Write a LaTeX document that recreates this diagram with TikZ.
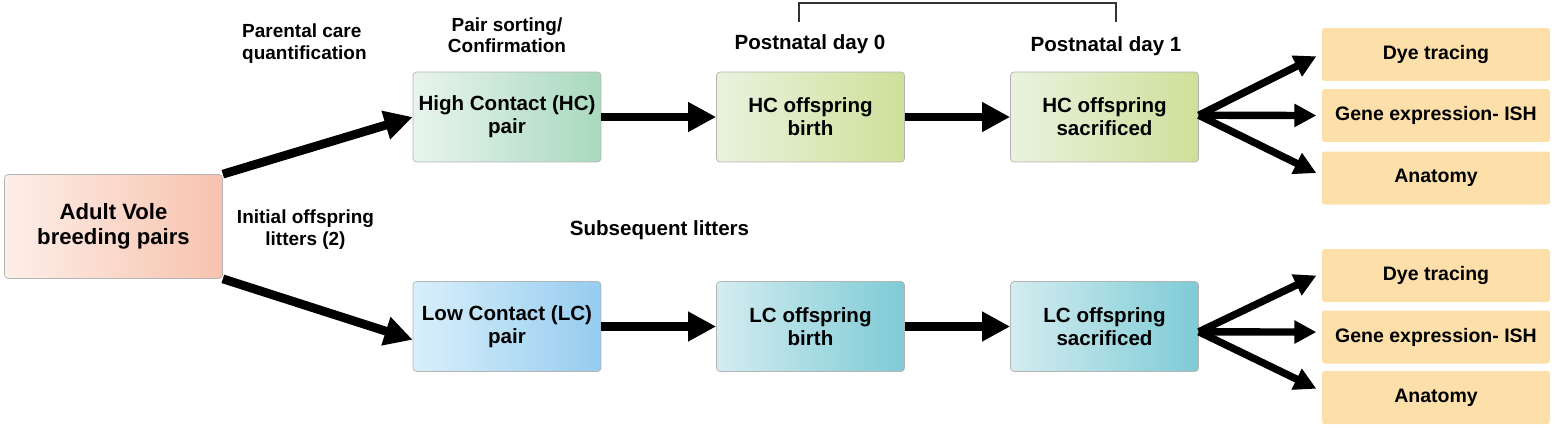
\documentclass[tikz,border=0pt]{standalone}
\usepackage{fontspec}
\setmainfont{Liberation Sans}
\definecolor{adultL}{HTML}{FDEEE8}
\definecolor{adultR}{HTML}{F7C3AE}
\definecolor{hcpairL}{HTML}{E8F4EE}
\definecolor{hcpairR}{HTML}{A9D9BE}
\definecolor{hcL}{HTML}{E9F2DE}
\definecolor{hcR}{HTML}{CFE09A}
\definecolor{lcpairL}{HTML}{D9EFFB}
\definecolor{lcpairR}{HTML}{96CCEF}
\definecolor{lcL}{HTML}{D3ECF0}
\definecolor{lcR}{HTML}{7ECBD6}
\definecolor{outfill}{HTML}{FDDFA9}
\definecolor{boxgray}{HTML}{B4B4B4}
\usetikzlibrary{arrows.meta, positioning}

\begin{document}
\begin{tikzpicture}[x=0.02cm, y=-0.02cm,
	box/.style={draw=boxgray, rounded corners=2pt, align=center, inner sep=0pt,
		minimum width=3.76cm, minimum height=1.8cm,
		font=\fontsize{11.7}{13}\selectfont\bfseries},
	outbox/.style={fill=outfill, rounded corners=1pt, inner sep=0pt,
		minimum width=4.56cm, minimum height=1.06cm,
		font=\fontsize{11.1}{13}\selectfont\bfseries},
	lbl/.style={align=center, font=\fontsize{10.8}{12.5}\selectfont\bfseries},
	daylbl/.style={font=\fontsize{11.7}{13}\selectfont\bfseries},
	bigarrow/.style={line width=5pt, -{Triangle[length=16pt,width=16pt]}},
	fanarrow/.style={line width=4.2pt, -{Triangle[length=12.5pt,width=12.5pt]}}]
	
	\useasboundingbox (0,0) rectangle (1555,430);
	
	% Breeding pairs
	\node[box, left color=adultL, right color=adultR, minimum width=4.36cm, minimum height=2.08cm,
		font=\fontsize{12.6}{14.5}\selectfont\bfseries] (adult) at (113.5,226.5) {Adult Vole\\breeding pairs};
	
	% High contact row
	\node[box, left color=hcpairL, right color=hcpairR] (hcpair) at (507,117) {High Contact (HC)\\pair};
	\node[box, left color=hcL, right color=hcR] (hcbirth) at (810.5,117) {HC offspring\\birth};
	\node[box, left color=hcL, right color=hcR] (hcsac) at (1104.5,117) {HC offspring\\sacrificed};
	
	% Low contact row
	\node[box, left color=lcpairL, right color=lcpairR] (lcpair) at (507,326.5) {Low Contact (LC)\\pair};
	\node[box, left color=lcL, right color=lcR] (lcbirth) at (810.5,326.5) {LC offspring\\birth};
	\node[box, left color=lcL, right color=lcR] (lcsac) at (1104.5,326.5) {LC offspring\\sacrificed};
	
	% Outcomes
	\node[outbox] (hcdye) at (1436,54.5) {Dye tracing};
	\node[outbox] (hcgene) at (1436,115.5) {Gene expression- ISH};
	\node[outbox] (hcanat) at (1436,178) {Anatomy};
	\node[outbox] (lcdye) at (1436,275.5) {Dye tracing};
	\node[outbox] (lcgene) at (1436,337) {Gene expression- ISH};
	\node[outbox] (lcanat) at (1436,397.5) {Anatomy};
	
	% Labels
	\node[lbl, anchor=west, align=left] (care) at (236,44) {Parental care\\quantification};
	\node[lbl, above=7pt of hcpair] (sorting) {Pair sorting/\\Confirmation};
	\node[lbl] (initial) at (305.5,230) {Initial offspring\\litters (2)};
	\node[daylbl] (subseq) at (659.5,230) {Subsequent litters};
	\node[daylbl] (day0) at (810,44) {Postnatal day 0};
	\node[daylbl] (day1) at (1106,46) {Postnatal day 1};
	
	% bracket
	\draw[line width=1.2pt, black!80] (799,22) -- (799,3) -- (1116,3) -- (1116,22);
	
	% Arrows
	\draw[bigarrow] (adult.north east) -- (hcpair.west);
	\draw[bigarrow] (adult.south east) -- (lcpair.188);
	\draw[bigarrow] (hcpair) -- (hcbirth);
	\draw[bigarrow] (hcbirth) -- (hcsac);
	\draw[bigarrow] (lcpair) -- (lcbirth);
	\draw[bigarrow] (lcbirth) -- (lcsac);
	
	% fans
	\foreach \o/\dy in {hcdye/-1pt,hcgene/0pt,hcanat/2.8pt} {
		\draw[fanarrow] ([yshift=1pt]hcsac.east) -- ([xshift=-3pt,yshift=\dy]\o.west);
	}
	\foreach \o/\dy in {lcdye/0pt,lcgene/2.8pt,lcanat/5pt} {
		\draw[fanarrow] ([yshift=-3pt]lcsac.east) -- ([xshift=-3pt,yshift=\dy]\o.west);
	}
	
\end{tikzpicture}
\end{document}
